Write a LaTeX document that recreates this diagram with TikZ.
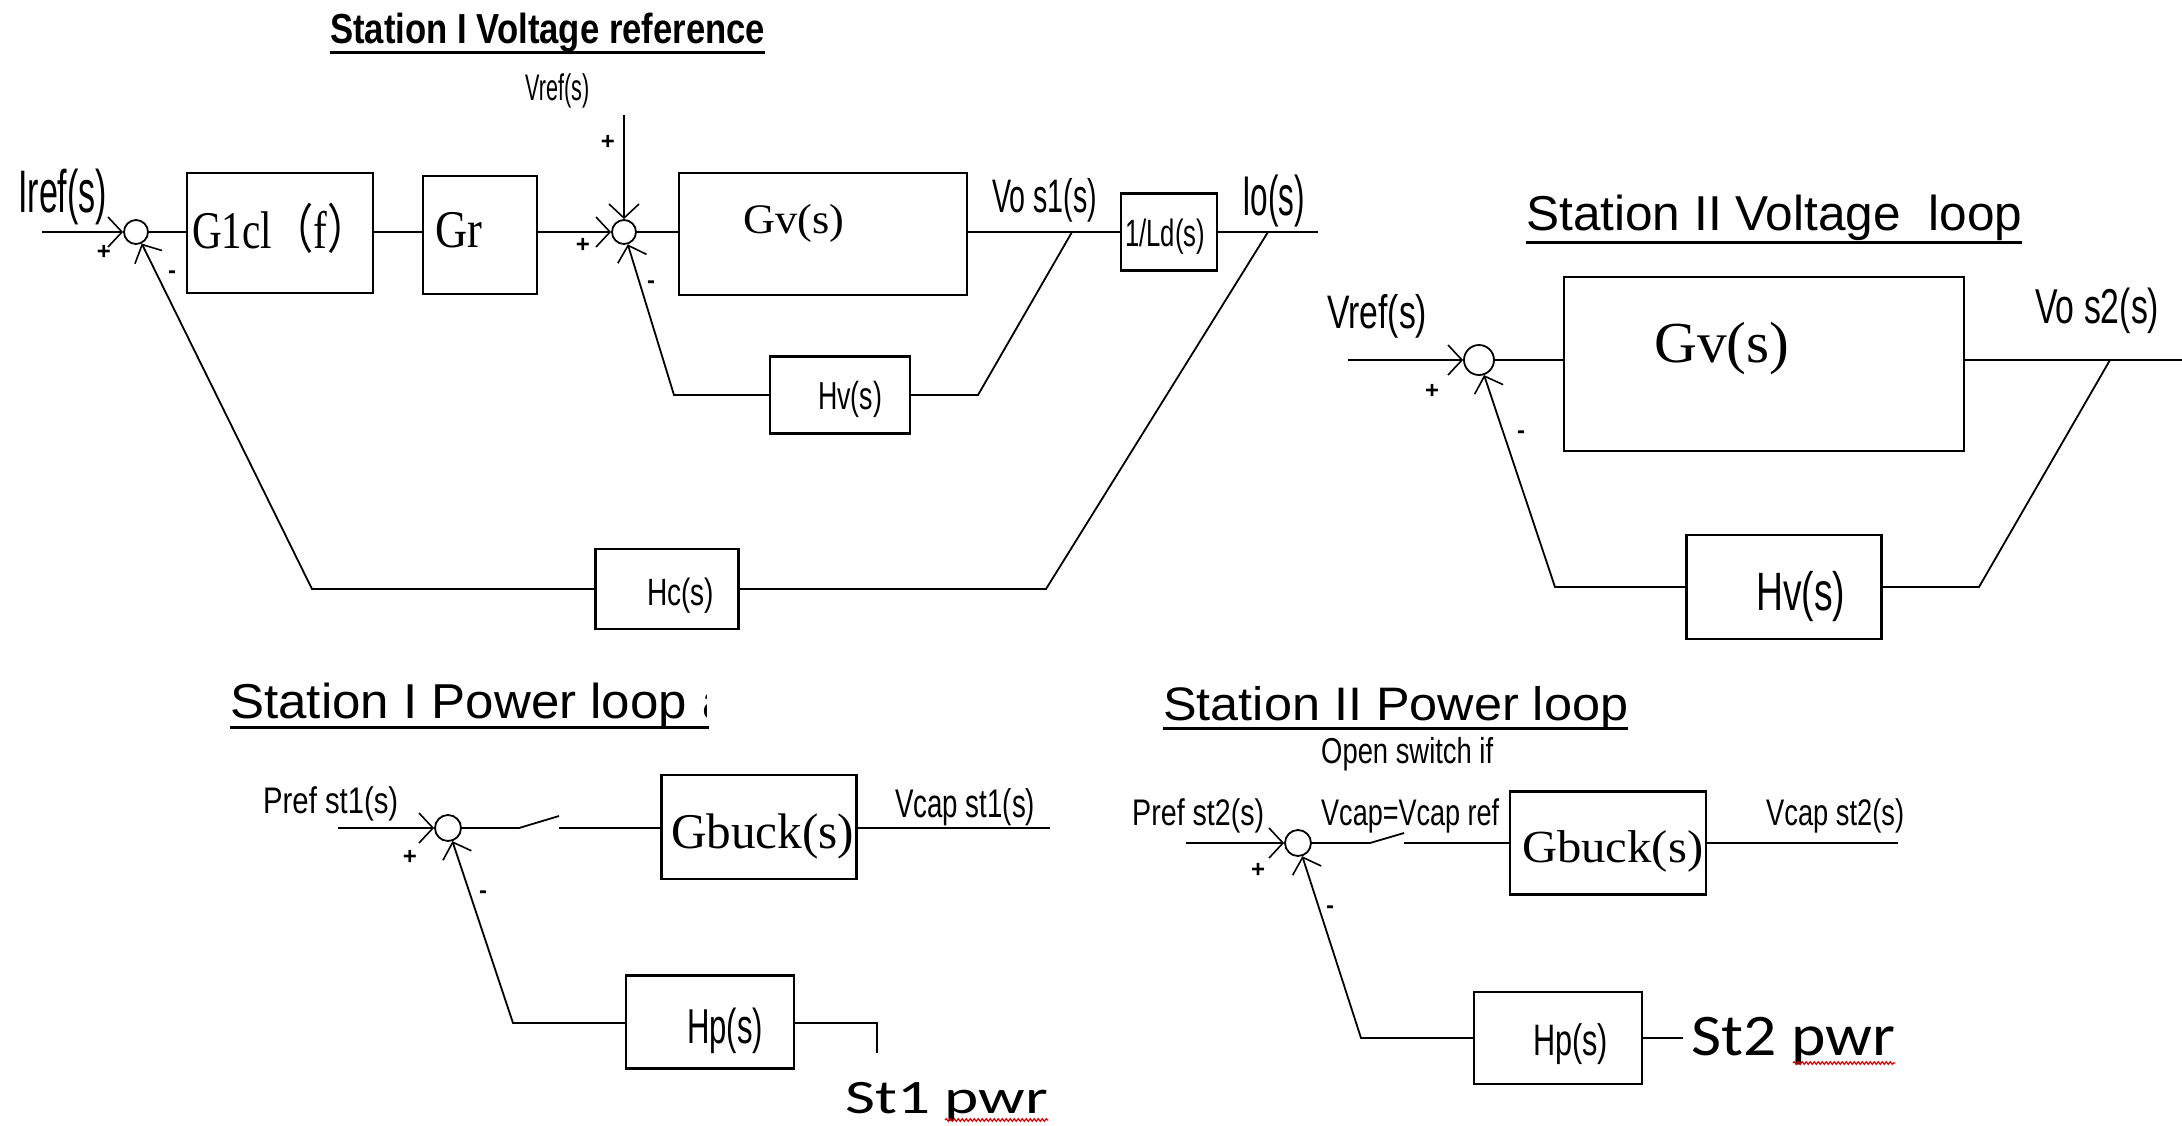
\documentclass[tikz,border=0pt]{standalone}
\usepackage{fontspec}
\setmainfont{Liberation Sans}
\newfontfamily\serf{Liberation Serif}
\newfontfamily\calib{Carlito}
\newfontfamily\cjkf{Noto Sans CJK SC}
\usepackage{graphicx}
\usetikzlibrary{arrows.meta,decorations.pathmorphing,calc}
\newcommand\fitt[3]{{\fontsize{#2pt}{#2pt}\selectfont\resizebox{#1pt}{\height}{#3}}}
\begin{document}
\begin{tikzpicture}[x=1pt,y=-1pt,
  blk/.style n args={2}{draw,line width=2.4pt,minimum width=#1pt,minimum height=#2pt,inner sep=0pt},
  sumj/.style={draw,circle,line width=1.8pt,minimum size=#1pt,inner sep=0pt},
  lbl/.style={anchor=base west,inner sep=0pt},
  sgn/.style={inner sep=0pt,font=\fontsize{24pt}{24pt}\selectfont\bfseries},
  ln/.style={line width=1.8pt},
  arr/.style={ln,-{Straight Barb[length=14pt,width=30pt,line width=1.6pt]}},
  uline/.style={line width=3pt},
  squig/.style={red!85!black,line width=1.2pt,decorate,decoration={snake,amplitude=1.3pt,segment length=4pt}}]
\fill[white] (0,0) rectangle (2182,1125);
\useasboundingbox (0,0) rectangle (2182,1125);

% ---------------- Station I voltage reference ----------------
\node[lbl] (t1) at (330,43) {\fitt{435}{42}{\bfseries Station I Voltage reference}};
\draw[uline] ([yshift=-9pt]t1.base west) -- ([yshift=-9pt]t1.base east);
\node[lbl] (vr1) at (525,100) {\fitt{64}{37}{Vref(s)}};
\node[lbl] (iref) at (18,212) {\fitt{89}{60}{Iref(s)}};

\node[sumj=24] (s1) at (136,232) {};
\node[sumj=24] (s2) at (624,232) {};
\node[blk={186}{120}] (g1) at (280,233) {};
\node[blk={114}{118}] (gr) at (480,235) {};
\node[blk={288}{122}] (gv1) at (823,234) {};
\node[blk={96}{77}] (ld) at (1169,232) {};
\node[blk={140}{77}] (hv1) at (840,395) {};
\node[blk={143}{80}] (hc) at (667,589) {};

\node[lbl] (g1t) at (192,248) {\fitt{176}{53}{\serf G1cl{\cjkf（}f{\cjkf）}}};
\node[lbl] (grt) at (435,247) {\fitt{47}{53}{\serf Gr}};
\node[lbl] (gv1t) at (743,233) {\fitt{101}{42}{\serf Gv(s)}};
\node[lbl] (vo1) at (992,212) {\fitt{105}{47}{Vo s1(s)}};
\node[lbl] (ldt) at (1125,246) {\fitt{80}{38}{1/Ld(s)}};
\node[lbl] (io) at (1242,215) {\fitt{63}{56}{Io(s)}};
\node[lbl] (hv1t) at (818,409) {\fitt{64}{39}{Hv(s)}};
\node[lbl] (hct) at (647,605) {\fitt{67}{38}{Hc(s)}};

\node[sgn] (p1) at (608,142) {+};
\node[sgn] (p2) at (104,252) {+};
\node[sgn] (m1) at (172,275) {-};
\node[sgn] (p3) at (583,245) {+};
\node[sgn] (m2) at (651,285) {-};

\coordinate (vtop) at (624,115);
\coordinate (in1) at (42,232);
\coordinate (out1) at (1318,232);
\coordinate (b1) at (1072,232);
\coordinate (k1) at (978,395);
\coordinate (b2) at (1268,232);
\coordinate (k2) at (1046,589);
\coordinate (k3) at (674,395);
\coordinate (k4) at (312,589);

\draw[arr] (vtop) -- (s2);
\draw[arr] (in1) -- (s1);
\draw[ln] (s1) -- (s1 -| g1.west);
\draw[ln] (g1.east |- s1) -- (s1 -| gr.west);
\draw[arr] (gr.east |- s2) -- (s2);
\draw[ln] (s2) -- (s2 -| gv1.west);
\draw[ln] (gv1.east |- s2) -- (ld.west |- s2);
\draw[ln] (ld.east |- out1) -- (out1);
\draw[ln] (b1) -- (k1) -- (hv1.east);
\draw[ln] (b2) -- (k2) -- (hc.east);
\draw[arr] (hv1.west) -- (k3) -- (s2);
\draw[arr] (hc.west) -- (k4) -- (s1);

% ---------------- Station II voltage loop ----------------
\node[lbl] (t2) at (1526,230) {\fitt{496}{49}{Station II Voltage\ \ loop}};
\draw[uline] ([yshift=-12pt]t2.base west) -- ([yshift=-12pt]t2.base east);
\node[lbl] (vr2) at (1327,328) {\fitt{100}{47}{Vref(s)}};
\node[sumj=30] (s3) at (1479,360) {};
\node[blk={400}{174}] (gv2) at (1764,364) {};
\node[blk={195}{104}] (hv2) at (1784,587) {};
\node[lbl] (gv2t) at (1654,362) {\fitt{135}{58}{\serf Gv(s)}};
\node[lbl] (vo2) at (2035,323) {\fitt{124}{49}{Vo s2(s)}};
\node[lbl] (hv2t) at (1756,610) {\fitt{89}{54}{Hv(s)}};
\node[sgn] (p4) at (1432,391) {+};
\node[sgn] (m3) at (1521,435) {-};

\coordinate (in2) at (1348,360);
\coordinate (out2) at (2182,360);
\coordinate (b3) at (2110,360);
\coordinate (k5) at (1979,587);
\coordinate (k6) at (1555,587);
\draw[arr] (in2) -- (s3);
\draw[ln] (s3) -- (s3 -| gv2.west);
\draw[ln] (gv2.east |- s3) -- (out2);
\draw[ln] (b3) -- (k5) -- (hv2.east);
\draw[arr] (hv2.west) -- (k6) -- (s3);

% ---------------- Station I power loop ----------------
\node[lbl] (t3) at (230,718) {\fitt{457}{49}{Station I Power loop}};
\begin{scope}
\clip (702,670) rectangle (706,722);
\node[lbl] (t3a) at (702,718) {\fitt{25}{49}{a}};
\end{scope}
\draw[uline] ([yshift=-9pt]t3.base west) -- ++(479,0);
\node[lbl] (pr1) at (263,813) {\fitt{135}{37}{Pref st1(s)}};
\node[sumj=26] (s4) at (448,828) {};
\node[blk={195}{104}] (gb1) at (759,827) {};
\node[blk={168}{93}] (hp1) at (710,1022) {};
\node[lbl] (gb1t) at (671,848) {\fitt{183}{50}{\serf Gbuck(s)}};
\node[lbl] (vc1) at (895,817) {\fitt{140}{40}{Vcap st1(s)}};
\node[lbl] (hp1t) at (687,1043) {\fitt{76}{49}{Hp(s)}};
\node[lbl] (st1) at (845,1113) {\fitt{203}{48}{\calib St1 pwr}};
\draw[squig] ([xshift=100pt,yshift=-7pt]st1.base west) -- ([yshift=-7pt]st1.base east);
\node[sgn] (p5) at (410,857) {+};
\node[sgn] (m4) at (483,895) {-};

\coordinate (in3) at (338,828);
\coordinate (sw1a) at (519,828);
\coordinate (sw1b) at (559,816);
\coordinate (sw1c) at (559,828);
\coordinate (out3) at (1050,828);
\coordinate (k7) at (513,1023);
\coordinate (k8) at (877,1023);
\coordinate (e1) at (877,1053);
\draw[arr] (in3) -- (s4);
\draw[ln] (s4) -- (sw1a) -- (sw1b);
\draw[ln] (sw1c) -- (sw1c -| gb1.west);
\draw[ln] (gb1.east |- out3) -- (out3);
\draw[arr] (hp1.west |- k7) -- (k7) -- (s4);
\draw[ln] (hp1.east |- k8) -- (k8) -- (e1);

% ---------------- Station II power loop ----------------
\node[lbl] (t4) at (1163,720) {\fitt{465}{47}{Station II Power loop}};
\draw[uline] ([yshift=-8pt]t4.base west) -- ([yshift=-8pt]t4.base east);
\node[lbl] (os) at (1321,763) {\fitt{172}{36}{Open switch if}};
\node[lbl] (vcr) at (1321,825) {\fitt{178}{37}{Vcap=Vcap ref}};
\node[lbl] (pr2) at (1132,825) {\fitt{132}{37}{Pref st2(s)}};
\node[sumj=26] (s5) at (1298,843) {};
\node[blk={196}{103}] (gb2) at (1608,843) {};
\node[blk={168}{92}] (hp2) at (1558,1038) {};
\node[lbl] (gb2t) at (1522,862) {\fitt{181}{46}{\serf Gbuck(s)}};
\node[lbl] (vc2) at (1766,825) {\fitt{138}{37}{Vcap st2(s)}};
\node[lbl] (hp2t) at (1533,1055) {\fitt{75}{44}{Hp(s)}};
\node[lbl] (st2) at (1691,1055) {\fitt{204}{59}{\calib St2 pwr}};
\draw[squig] ([xshift=102pt,yshift=-8pt]st2.base west) -- ([yshift=-8pt]st2.base east);
\node[sgn] (p6) at (1258,870) {+};
\node[sgn] (m5) at (1330,910) {-};

\coordinate (in4) at (1186,843);
\coordinate (sw2a) at (1370,843);
\coordinate (sw2b) at (1404,833);
\coordinate (sw2c) at (1404,843);
\coordinate (out4) at (1898,843);
\coordinate (k9) at (1361,1038);
\coordinate (e2) at (1683,1038);
\draw[arr] (in4) -- (s5);
\draw[ln] (s5) -- (sw2a) -- (sw2b);
\draw[ln] (sw2c) -- (sw2c -| gb2.west);
\draw[ln] (gb2.east |- out4) -- (out4);
\draw[arr] (hp2.west) -- (k9) -- (s5);
\draw[ln] (hp2.east) -- (e2);
\end{tikzpicture}
\end{document}
